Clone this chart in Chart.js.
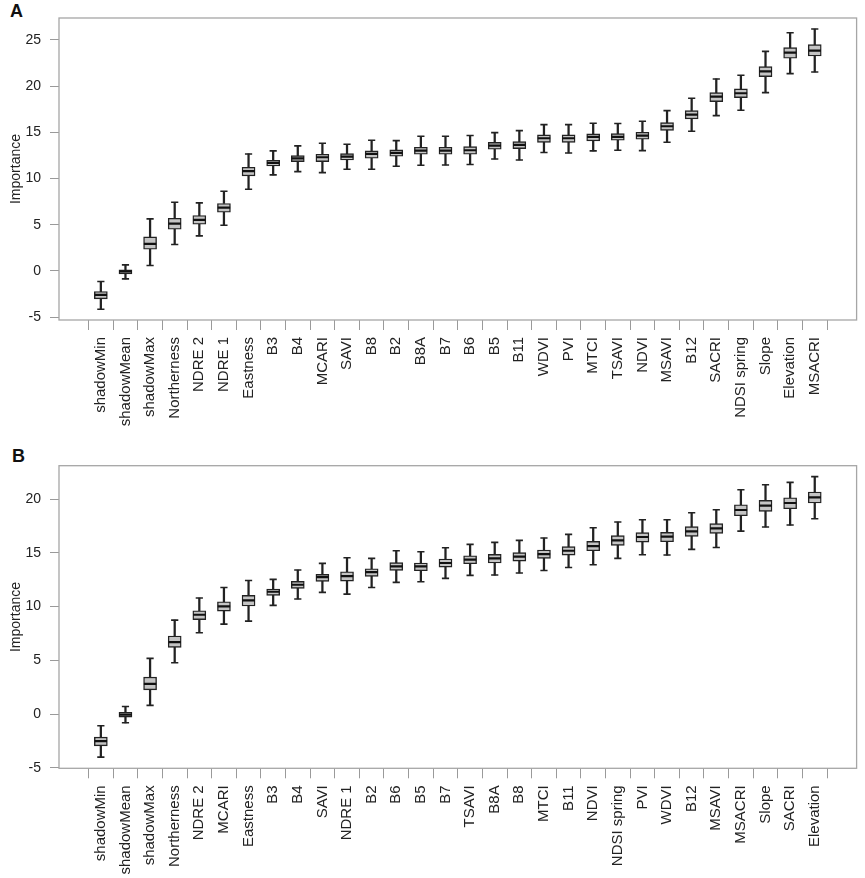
<!DOCTYPE html>
<html>
<head>
<meta charset="utf-8">
<script src="https://cdn.jsdelivr.net/npm/chart.js@4.4.1/dist/chart.umd.min.js"></script>
<style>
  html, body { margin: 0; padding: 0; background: #fff; }
  #wrap { position: relative; width: 865px; height: 878px; }
  .panel { position: absolute; left: 0; width: 865px; }
  .tag { position: absolute; font: bold 18px 'Liberation Sans', Arial, sans-serif; line-height: 18px; color: #111; }
</style>
</head>
<body>
<div id="wrap">
  <div class="tag" style="left:10px; top:2px;">A</div>
  <div class="tag" style="left:12px; top:447px;">B</div>
  <div class="panel" style="top:0; height:440px;"><canvas id="chartA"></canvas></div>
  <div class="panel" style="top:440px; height:438px;"><canvas id="chartB"></canvas></div>
</div>
<script>
// ---- panel A ----
var labelsA = ['shadowMin', 'shadowMean', 'shadowMax', 'Northerness', 'NDRE 2', 'NDRE 1', 'Eastness',
  'B3', 'B4', 'MCARI', 'SAVI', 'B8', 'B2', 'B8A', 'B7', 'B6', 'B5', 'B11', 'WDVI', 'PVI', 'MTCI',
  'TSAVI', 'NDVI', 'MSAVI', 'B12', 'SACRI', 'NDSI spring', 'Slope', 'Elevation', 'MSACRI'];
var loA  = [-4.15, -0.87, 0.58, 2.85, 3.79, 4.94, 8.84, 10.39, 10.75, 10.64, 11.0, 11.0, 11.33, 11.44, 11.47,
  11.51, 12.12, 12.01, 12.81, 12.77, 12.99, 13.06, 13.02, 13.92, 15.12, 16.81, 17.39, 19.3, 21.36, 21.54];
var q1A  = [-3.03, -0.32, 2.34, 4.51, 5.05, 6.35, 10.28, 11.36, 11.83, 11.83, 12.01, 12.19, 12.41, 12.63, 12.63,
  12.63, 13.17, 13.24, 13.92, 13.92, 14.07, 14.14, 14.25, 15.22, 16.45, 18.33, 18.76, 21.03, 23.02, 23.27];
var medA = [-2.6, -0.07, 2.92, 5.12, 5.52, 6.85, 10.79, 11.69, 12.19, 12.3, 12.37, 12.66, 12.77, 13.02, 13.02,
  13.06, 13.56, 13.64, 14.36, 14.36, 14.5, 14.5, 14.65, 15.66, 16.92, 18.87, 19.23, 21.61, 23.63, 23.85];
var q3A  = [-2.24, 0.1, 3.68, 5.7, 5.99, 7.29, 11.22, 11.98, 12.48, 12.63, 12.7, 12.99, 13.1, 13.38, 13.38,
  13.46, 13.92, 14.0, 14.72, 14.72, 14.83, 14.86, 15.01, 16.05, 17.35, 19.3, 19.7, 22.11, 24.17, 24.49];
var hiA  = [-1.15, 0.65, 5.63, 7.43, 7.36, 8.62, 12.66, 12.99, 13.53, 13.82, 13.71, 14.14, 14.1, 14.57, 14.57,
  14.65, 14.97, 15.19, 15.84, 15.84, 15.98, 15.95, 16.2, 17.35, 18.69, 20.78, 21.18, 23.77, 25.79, 26.19];
var yTicksA = [-5, 0, 5, 10, 15, 20, 25];

// ---- panel B ----
var labelsB = ['shadowMin', 'shadowMean', 'shadowMax', 'Northerness', 'NDRE 2', 'MCARI', 'Eastness',
  'B3', 'B4', 'SAVI', 'NDRE 1', 'B2', 'B6', 'B5', 'B7', 'TSAVI', 'B8A', 'B8', 'MTCI', 'B11', 'NDVI',
  'NDSI spring', 'PVI', 'WDVI', 'B12', 'MSAVI', 'MSACRI', 'Slope', 'SACRI', 'Elevation'];
var loB  = [-4.0, -0.81, 0.81, 4.78, 7.57, 8.37, 8.65, 10.11, 10.7, 11.32, 11.16, 11.78, 12.25, 12.31, 12.62,
  12.9, 12.93, 13.12, 13.36, 13.64, 13.89, 14.48, 14.82, 14.79, 15.32, 15.5, 17.02, 17.4, 17.58, 18.17];
var q1B  = [-2.95, -0.28, 2.26, 6.2, 8.78, 9.58, 10.05, 11.04, 11.69, 12.34, 12.37, 12.81, 13.36, 13.33, 13.67,
  13.98, 14.05, 14.23, 14.48, 14.79, 15.19, 15.69, 16.0, 16.03, 16.53, 16.81, 18.45, 18.85, 19.1, 19.63];
var medB = [-2.51, -0.06, 2.82, 6.7, 9.24, 10.02, 10.57, 11.38, 12.03, 12.74, 12.84, 13.21, 13.74, 13.74, 14.05,
  14.36, 14.48, 14.64, 14.88, 15.19, 15.63, 16.16, 16.47, 16.5, 16.99, 17.27, 18.98, 19.38, 19.63, 20.16];
var q3B  = [-2.14, 0.16, 3.44, 7.26, 9.61, 10.45, 11.04, 11.63, 12.34, 13.0, 13.24, 13.52, 14.08, 14.05, 14.42,
  14.73, 14.85, 15.01, 15.26, 15.57, 16.06, 16.59, 16.87, 16.9, 17.43, 17.71, 19.47, 19.88, 20.12, 20.65];
var hiB  = [-1.09, 0.71, 5.18, 8.74, 10.79, 11.78, 12.43, 12.53, 13.4, 14.02, 14.54, 14.48, 15.19, 15.1, 15.47,
  15.78, 15.97, 16.16, 16.37, 16.71, 17.33, 17.86, 18.08, 18.08, 18.73, 19.01, 20.87, 21.33, 21.55, 22.08];
var yTicksB = [-5, 0, 5, 10, 15, 20];

Chart.defaults.font.family = "'Liberation Sans', Arial, sans-serif";
Chart.defaults.color = '#222';

var frame = {
  id: 'frame',
  afterDraw: function(chart) {
    var a = chart.chartArea, ctx = chart.ctx;
    ctx.save();
    ctx.strokeStyle = '#a6a6a6';
    ctx.lineWidth = 1.3;
    ctx.strokeRect(a.left, a.top, a.right - a.left, a.bottom - a.top);
    ctx.restore();
  }
};

function pts(vals) {
  return vals.map(function(v, i) { return { x: i + 1, y: v }; });
}
function spans(a, b) {
  return a.map(function(v, i) { return { x: i + 1, y: [v, b[i]] }; });
}

function boxChart(id, labels, lo, q1, med, q3, hi, yMin, yMax, yTicks, padTop, xHeight) {
  return new Chart(document.getElementById(id), {
    type: 'bar',
    data: {
      datasets: [
        { type: 'scatter', data: pts(med), pointStyle: 'line', radius: 6.2, borderWidth: 2.2,
          borderColor: '#111', hoverRadius: 6.2 },
        { type: 'scatter', data: pts(lo).concat(pts(hi)), pointStyle: 'line', radius: 3.6, borderWidth: 1.6,
          borderColor: '#222', hoverRadius: 3.6 },
        { data: spans(q1, q3), grouped: false, barThickness: 13, backgroundColor: '#c4c4c4',
          borderColor: '#222', borderWidth: 1.4, borderSkipped: false },
        { data: spans(lo, q1), grouped: false, barThickness: 1.6, backgroundColor: '#222', borderWidth: 0 },
        { data: spans(q3, hi), grouped: false, barThickness: 1.6, backgroundColor: '#222', borderWidth: 0 }
      ]
    },
    options: {
      responsive: true,
      maintainAspectRatio: false,
      animation: false,
      events: [],
      layout: { padding: { top: padTop, right: 5, left: 0, bottom: 0 } },
      plugins: { legend: { display: false }, tooltip: { enabled: false } },
      scales: {
        x: {
          type: 'linear',
          min: -0.7,
          max: 31.7,
          offset: false,
          afterBuildTicks: function(s) {
            s.ticks = labels.map(function(_, i) { return { value: i + 1 }; });
          },
          afterFit: function(s) { s.height = xHeight; },
          grid: { drawOnChartArea: false, drawTicks: true, tickLength: 10, tickColor: '#9a9a9a', tickWidth: 1 },
          border: { display: false },
          ticks: {
            autoSkip: false,
            minRotation: 90,
            maxRotation: 90,
            padding: 7,
            font: { size: 15 },
            color: '#222',
            callback: function(v) { return labels[v - 1]; }
          }
        },
        y: {
          min: yMin,
          max: yMax,
          afterBuildTicks: function(s) {
            s.ticks = yTicks.map(function(v) { return { value: v }; });
          },
          afterFit: function(s) { s.width = 59; },
          grid: { drawOnChartArea: false, drawTicks: true, tickLength: 9, tickColor: '#9a9a9a', tickWidth: 1 },
          border: { display: false },
          ticks: { padding: 9, font: { size: 14 }, color: '#222' },
          title: { display: true, text: 'Importance', font: { size: 14 }, color: '#222',
            padding: { top: 8, bottom: 0 } }
        }
      }
    },
    plugins: [frame]
  });
}

boxChart('chartA', labelsA, loA, q1A, medA, q3A, hiA, -5.32, 27.38, yTicksA, 18, 120);
boxChart('chartB', labelsB, loB, q1B, medB, q3B, hiB, -5.04, 23.1, yTicksB, 25.7, 109.7);
</script>
</body>
</html>
